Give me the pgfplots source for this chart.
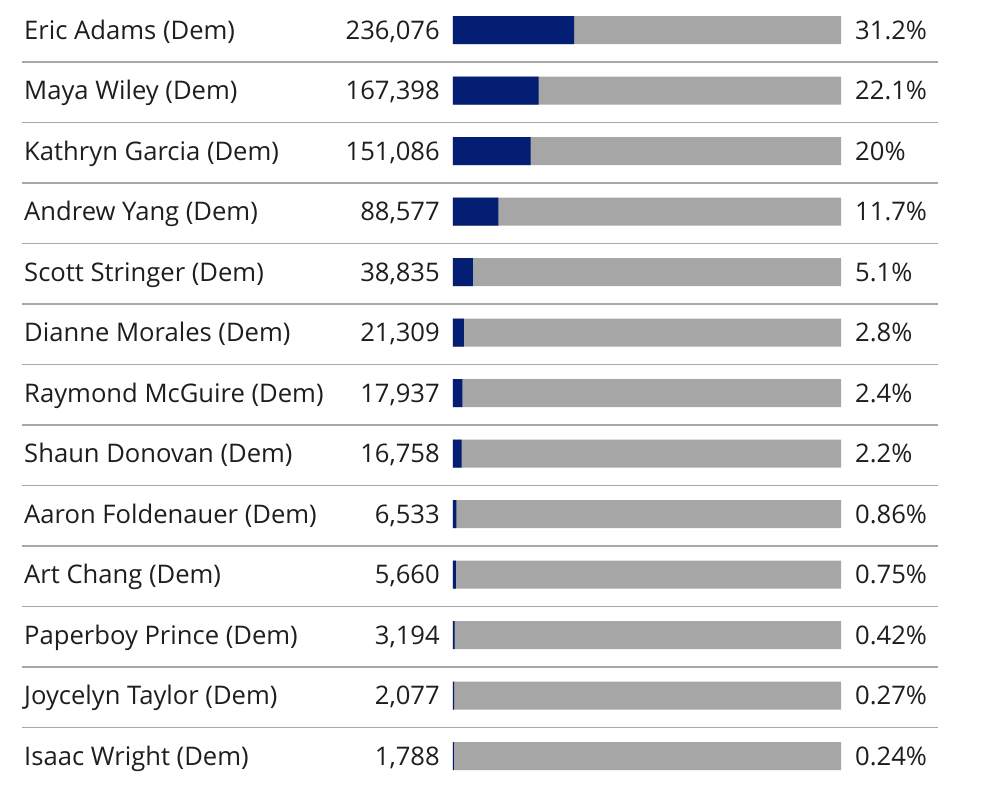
\documentclass[border=0pt]{standalone}
\usepackage{fontspec}
\setmainfont{Open Sans}
\usepackage{pgfplots}
\usepackage{pgfplotstable}
\pgfplotsset{compat=1.18}
\definecolor{navy}{HTML}{041E73}
\definecolor{bargray}{HTML}{A6A6A6}
\definecolor{rulegray}{HTML}{A8A8A8}
\definecolor{ink}{HTML}{1E1E1E}

% results table: row index, candidate, votes, share in percent
\pgfplotstableread[col sep=semicolon]{
idx;name;votes;pct
0;Eric Adams (Dem);236,076;31.2
1;Maya Wiley (Dem);167,398;22.1
2;Kathryn Garcia (Dem);151,086;20
3;Andrew Yang (Dem);88,577;11.7
4;Scott Stringer (Dem);38,835;5.1
5;Dianne Morales (Dem);21,309;2.8
6;Raymond McGuire (Dem);17,937;2.4
7;Shaun Donovan (Dem);16,758;2.2
8;Aaron Foldenauer (Dem);6,533;0.86
9;Art Chang (Dem);5,660;0.75
10;Paperboy Prince (Dem);3,194;0.42
11;Joycelyn Taylor (Dem);2,077;0.27
12;Isaac Wright (Dem);1,788;0.24
}\results

\begin{document}
\begin{tikzpicture}
\begin{axis}[
    scale only axis, width=750pt, height=597pt,
    xmin=-116.75, xmax=140.98,
    ymin=-0.496, ymax=12.661, y dir=reverse,
    axis lines=none, clip=false,
    every node near coord/.append style={font=\fontsize{19.2}{23}\selectfont, text=ink, inner sep=0pt},
  ]
  % separators between rows
  \pgfplotsinvokeforeach{0,...,11}{
    \draw[rulegray, line width=0.9pt] (axis cs:-111.08,#1.53) -- (axis cs:125,#1.53);
  }
  % full-width background bars
  \addplot[xbar, bar width=0.463, bar shift=0, fill=bargray, draw=none]
    table[x expr=100, y=idx] {\results};
  % vote share
  \addplot[xbar, bar width=0.463, bar shift=0, fill=navy, draw=none]
    table[x=pct, y=idx] {\results};
  % candidate names
  \addplot[draw=none, mark=none, nodes near coords, point meta=explicit symbolic,
    nodes near coords style={anchor=base west, yshift=-6.8pt}]
    table[x expr=-110.57, y=idx, meta=name] {\results};
  % vote counts
  \addplot[draw=none, mark=none, nodes near coords, point meta=explicit symbolic,
    nodes near coords style={anchor=base east, yshift=-6.8pt}]
    table[x expr=-3.35, y=idx, meta=votes] {\results};
  % percentages
  \addplot[draw=none, mark=none, point meta=explicit symbolic,
    nodes near coords={\pgfplotspointmeta\%},
    nodes near coords style={anchor=base west, yshift=-6.8pt}]
    table[x expr=103.6, y=idx, meta=pct] {\results};
\end{axis}
\pgfresetboundingbox
\useasboundingbox (current axis.south west) rectangle (current axis.north east);
\end{tikzpicture}
\end{document}
